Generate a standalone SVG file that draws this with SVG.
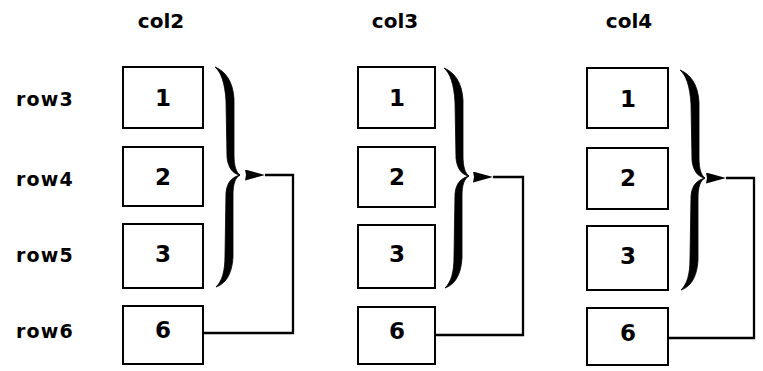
<svg xmlns="http://www.w3.org/2000/svg" width="763" height="371" viewBox="0 0 763 371">
<style>
text{font-family:"DejaVu Sans","Liberation Sans",Arial,sans-serif;font-weight:bold;fill:#000}
.c{text-anchor:middle}
.h{font-size:20px}
.r{font-size:19px;letter-spacing:1.2px}
.n{font-size:23px}
.box{fill:#fff;stroke:#000;stroke-width:2}
.brace{fill:#000;stroke:#000;stroke-width:0.8;stroke-linejoin:round}
.conn{fill:none;stroke:#000;stroke-width:2.3}
</style>
<defs>
<marker id="ah" viewBox="0 0 20 11" refX="0" refY="5.5" markerWidth="20" markerHeight="11" markerUnits="userSpaceOnUse" orient="auto-start-reverse">
<path d="M0,5.5 L20,0 L19,5.5 L20,11 Z" fill="#000"/>
</marker>
<path id="br" d="M0,0 C10,4 18,14 19,32 L19,88 C19,99 21,105 25,108 C18,107 13,101 12,90 L11,34 C10,16 6,5 0,0 Z M25,108 C20,111 18,117 18,128 L18,190 C17,208 10,217 1,220 C7,214 10,205 10,188 L11,126 C12,114 18,110 25,108 Z"/>
</defs>
<rect width="763" height="371" fill="#fff"/>
<g id="labels">
<text class="c h" x="161" y="28">col2</text>
<text class="c h" x="395" y="28">col3</text>
<text class="c h" x="629" y="28">col4</text>
<text class="r" x="16" y="106">row3</text>
<text class="r" x="16" y="186">row4</text>
<text class="r" x="16" y="262">row5</text>
<text class="r" x="16" y="338">row6</text>
</g>
<g id="col2">
<g id="c2r3"><rect class="box" x="123" y="67" width="80" height="61"/><text class="c n" x="163" y="106">1</text></g>
<g id="c2r4"><rect class="box" x="123" y="147" width="80" height="59"/><text class="c n" x="163" y="185">2</text></g>
<g id="c2r5"><rect class="box" x="123" y="224" width="80" height="64"/><text class="c n" x="163" y="262">3</text></g>
<g id="c2r6"><rect class="box" x="123" y="306" width="80" height="58"/><text class="c n" x="163" y="338">6</text></g>
<use href="#br" class="brace" x="215" y="67"/>
</g>
<g id="col3">
<g id="c3r3"><rect class="box" x="358" y="67" width="77" height="61"/><text class="c n" x="397" y="106">1</text></g>
<g id="c3r4"><rect class="box" x="358" y="147" width="77" height="60"/><text class="c n" x="397" y="185">2</text></g>
<g id="c3r5"><rect class="box" x="358" y="225" width="77" height="63"/><text class="c n" x="397" y="262">3</text></g>
<g id="c3r6"><rect class="box" x="358" y="307" width="77" height="57"/><text class="c n" x="397" y="339">6</text></g>
<use href="#br" class="brace" x="444" y="68"/>
</g>
<g id="col4">
<g id="c4r3"><rect class="box" x="587" y="68" width="81" height="60"/><text class="c n" x="628" y="107">1</text></g>
<g id="c4r4"><rect class="box" x="587" y="148" width="81" height="61"/><text class="c n" x="628" y="186">2</text></g>
<g id="c4r5"><rect class="box" x="587" y="226" width="81" height="64"/><text class="c n" x="628" y="264">3</text></g>
<g id="c4r6"><rect class="box" x="587" y="308" width="81" height="57"/><text class="c n" x="628" y="341">6</text></g>
<use href="#br" class="brace" x="680" y="70"/>
</g>
<g id="connectors">
<path class="conn" d="M203,333 H293 V175 H265" marker-end="url(#ah)"/>
<path class="conn" d="M435,335 H523 V177 H493" marker-end="url(#ah)"/>
<path class="conn" d="M668,338 H754 V178 H726" marker-end="url(#ah)"/>
</g>
</svg>
